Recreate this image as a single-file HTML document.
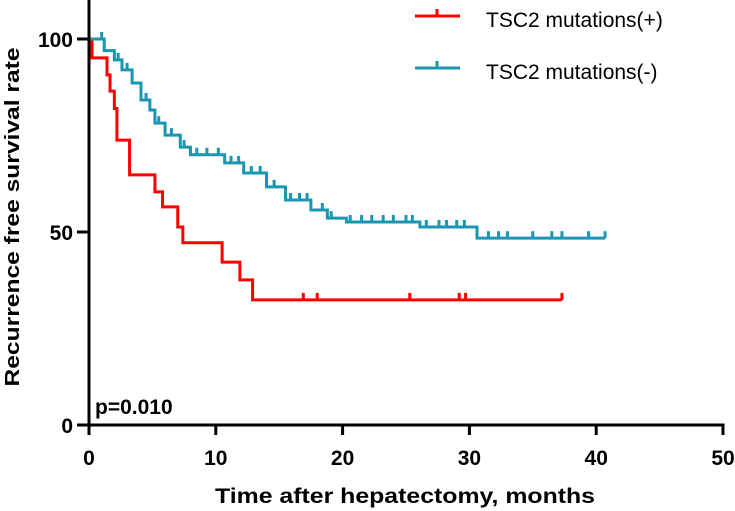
<!DOCTYPE html>
<html><head><meta charset="utf-8"><style>
html,body{margin:0;padding:0;background:#fff;}
svg{display:block;font-family:"Liberation Sans",Arial,sans-serif;}
</style></head><body>
<svg id="chart" width="735" height="511" viewBox="0 0 735 511">
<g id="plot"></g>
<g id="axes"></g>
<text x="95" y="414" font-size="21" font-weight="bold" fill="#000">p=0.010</text>
<text x="405" y="503" font-size="21" font-weight="bold" text-anchor="middle" textLength="380" lengthAdjust="spacingAndGlyphs" fill="#000">Time after hepatectomy, months</text>
<text transform="translate(19,217) rotate(-90)" font-size="20" font-weight="bold" text-anchor="middle" textLength="339" lengthAdjust="spacingAndGlyphs" fill="#000">Recurrence free survival rate</text>
<g>
<line x1="415" y1="16" x2="460" y2="16" stroke="#ff0000" stroke-width="3"/>
<line x1="437" y1="16" x2="437" y2="9" stroke="#ff0000" stroke-width="3"/>
<text x="486" y="27" font-size="21" fill="#000">TSC2 mutations(+)</text>
</g>
<g>
<line x1="415" y1="68" x2="460" y2="68" stroke="#1b96b2" stroke-width="3"/>
<line x1="437" y1="68" x2="437" y2="61" stroke="#1b96b2" stroke-width="3"/>
<text x="486" y="79" font-size="21" fill="#000">TSC2 mutations(-)</text>
</g>
</svg>
<script>
const xTicks=[0,10,20,30,40,50];
const yTicks=[0,50,100];
const redTimes=[0,0.24,1.42,1.66,2.0,2.2,3.2,5.2,5.8,7.0,7.4,10.5,11.9,12.9];
const redValues=[100,95.1,90.7,86.5,82.0,73.8,64.8,60.4,56.5,51.3,47.2,42.2,37.6,32.4];
const redCensor=[16.9,18.0,25.3,29.2,29.7,37.3];
const blueTimes=[0,1.2,2.0,2.6,3.4,4.1,4.8,5.2,6.0,7.2,8.0,10.7,12.2,14.0,15.5,17.5,18.8,20.3,26.1,30.6];
const blueValues=[100,97,94.6,92,88.6,84.2,81.6,78.2,75.1,72,70,67.9,65.3,61.7,58.3,55.7,53.6,52.6,51.3,48.4];
const blueCensor=[1.0,2.3,3.0,4.5,5.5,6.5,7.5,8.5,9.3,10.2,11.2,11.8,12.8,13.5,14.6,15.9,16.6,17.2,18.4,19.1,20.6,21.5,22.3,23.2,24.0,25.0,25.5,26.6,27.6,28.2,29.0,29.6,31.5,32.3,33.0,35.0,36.5,37.3,39.4,40.7];
const X=t=>89+t*12.68;
const Y=v=>425-v*3.86;
const ns="http://www.w3.org/2000/svg";
const plot=document.getElementById('plot'), axes=document.getElementById('axes');
function mk(tag,attrs,parent){const e=document.createElementNS(ns,tag);for(const k in attrs)e.setAttribute(k,attrs[k]);parent.appendChild(e);return e;}
function valAt(times,vals,t){let v=vals[0];for(let i=0;i<times.length;i++){if(times[i]<=t)v=vals[i];}return v;}
function drawCurve(times,vals,censor,endT,color,name){
  let d="M"+X(times[0])+","+Y(vals[0]);
  for(let i=1;i<times.length;i++){d+=" H"+X(times[i])+" V"+Y(vals[i]);}
  d+=" H"+X(endT);
  const p=mk('path',{d:d,fill:'none',stroke:color,'stroke-width':3},plot);
  
  
  censor.forEach(t=>{const v=valAt(times,vals,t);
    const l=mk('line',{x1:X(t),x2:X(t),y1:Y(v),y2:Y(v)-7,stroke:color,'stroke-width':3},plot);
    
    
  });
}
drawCurve(redTimes,redValues,redCensor,redCensor[redCensor.length-1],'#ff0000','tsc2-positive');
drawCurve(blueTimes,blueValues,blueCensor,blueCensor[blueCensor.length-1],'#1b96b2','tsc2-negative');
const ya=mk('line',{x1:89,y1:0,x2:89,y2:432,stroke:'#000','stroke-width':3},axes);


const xa=mk('line',{x1:78,y1:425,x2:724.5,y2:425,stroke:'#000','stroke-width':3},axes);


xTicks.forEach(t=>{
  const l=mk('line',{x1:X(t),x2:X(t),y1:425,y2:435,stroke:'#000','stroke-width':3},axes);
  
  
  const tx=mk('text',{x:X(t),y:465,'font-size':21,'font-weight':'bold','text-anchor':'middle'},axes);
  tx.textContent=t;
  
  
});
yTicks.forEach(v=>{
  const l=mk('line',{x1:77,x2:89,y1:Y(v),y2:Y(v),stroke:'#000','stroke-width':3},axes);
  
  
  const tx=mk('text',{x:73,y:Y(v)+8,'font-size':21,'font-weight':'bold','text-anchor':'end'},axes);
  tx.textContent=v;
  
  
});
</script>
</body></html>
